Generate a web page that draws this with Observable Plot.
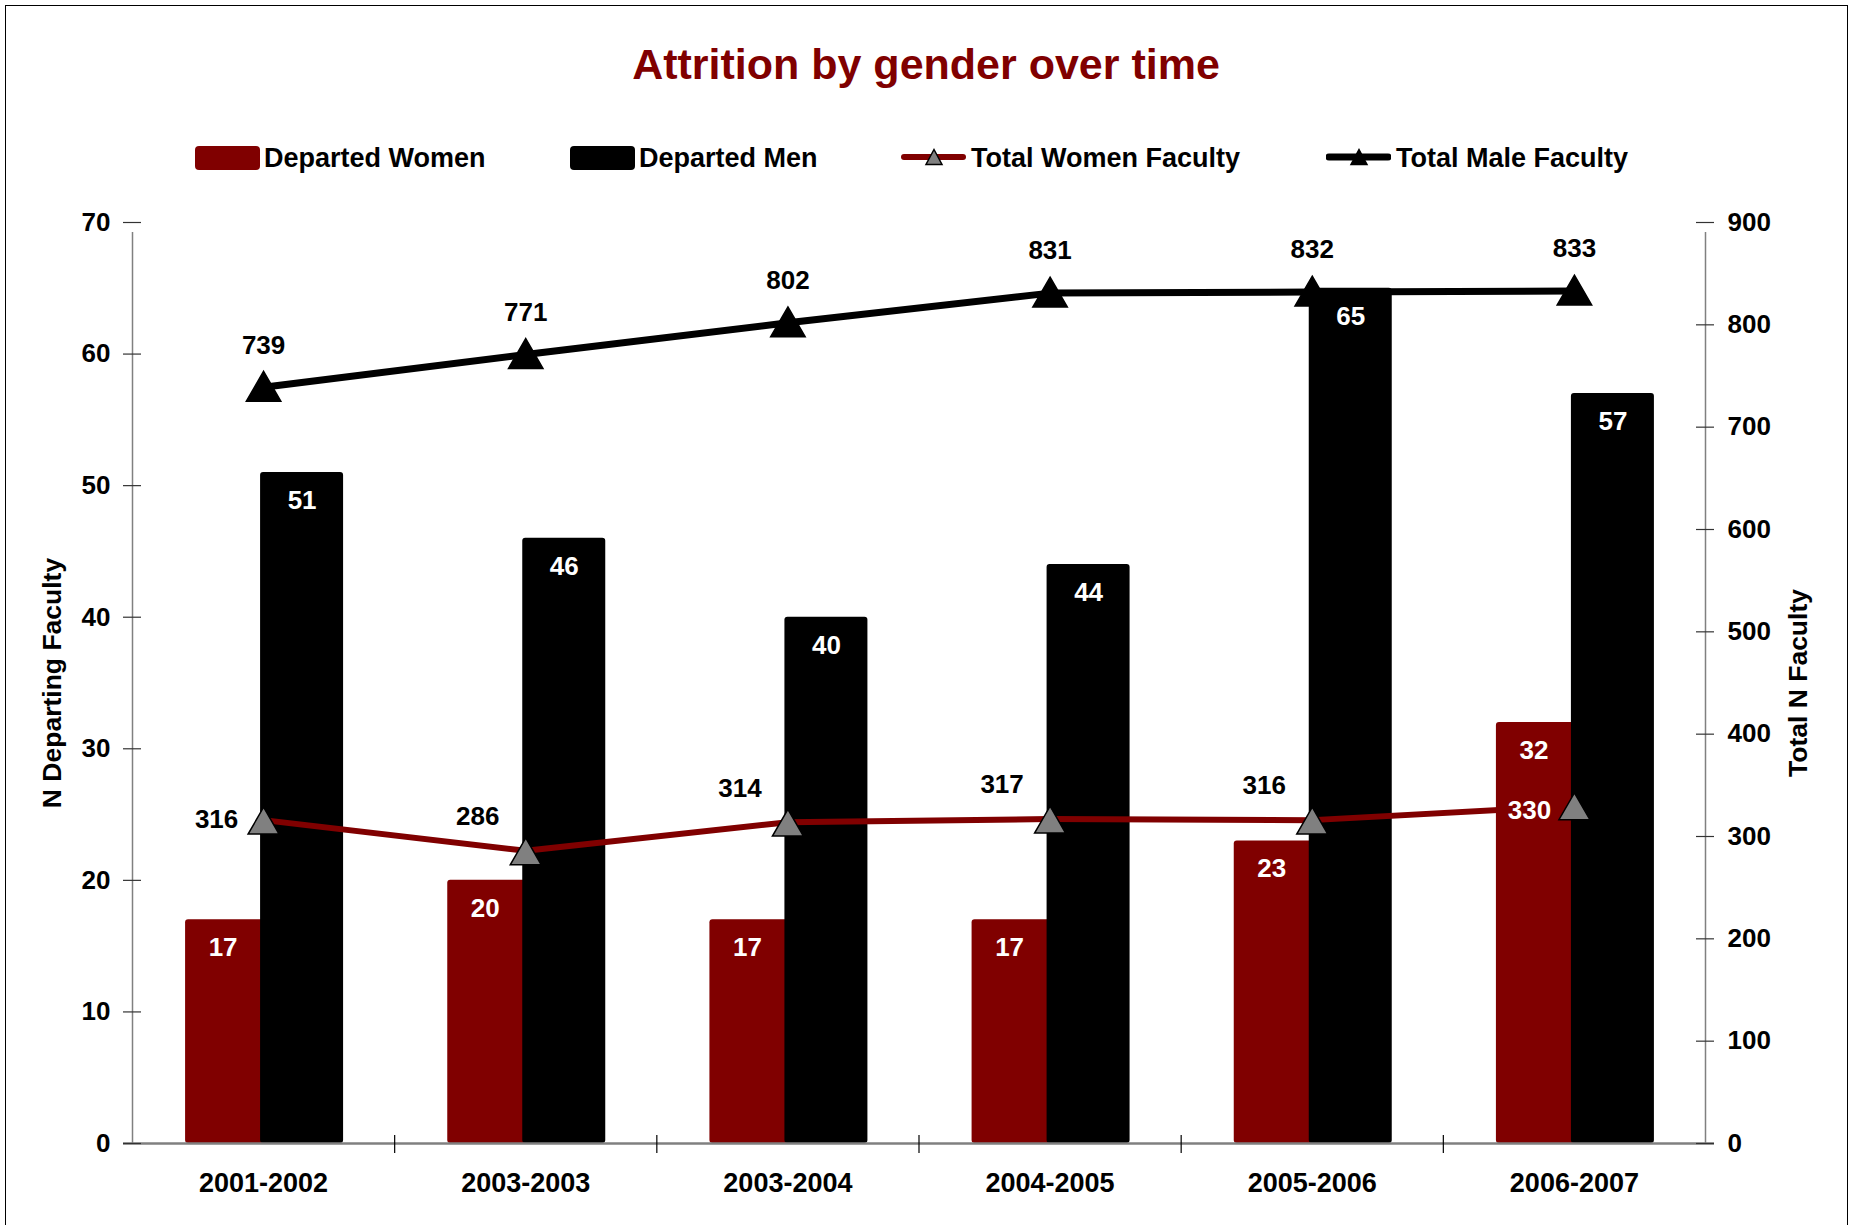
<!DOCTYPE html>
<html>
<head>
<meta charset="utf-8">
<script src="https://cdn.jsdelivr.net/npm/d3@7"></script>
<script src="https://cdn.jsdelivr.net/npm/@observablehq/plot@0.6"></script>
<style>
  html, body { margin: 0; padding: 0; background: #fff; overflow: hidden; }
  body { font-family: "Liberation Sans", Arial, sans-serif; font-weight: bold; }
  #wrap { position: relative; width: 1852px; height: 1225px; overflow: hidden; }
  #frame { position: absolute; left: 5px; top: 5px; width: 1843px; height: 1240px; border: 1.5px solid #000; box-sizing: border-box; }
  #title { position: absolute; left: 0; top: 43px; width: 1852px; text-align: center; font-size: 43px; line-height: 43px; color: #800000; white-space: nowrap; }
  .leg { position: absolute; top: 143px; height: 30px; display: flex; align-items: center; font-size: 27px; line-height: 27px; color: #000; white-space: nowrap; }
  .leg .sw { width: 65px; height: 24px; border-radius: 4px; margin-right: 4px; }
  .leg svg { margin-right: 5px; }
  #chart { position: absolute; left: 0; top: 190px; }
</style>
</head>
<body>
<div id="wrap">
  <div id="frame"></div>
  <div id="title">Attrition by gender over time</div>
  <div id="legend"></div>
  <div id="chart"></div>
</div>
<script>
const categories = ["2001-2002", "2003-2003", "2003-2004", "2004-2005", "2005-2006", "2006-2007"];
const departedWomen = [17, 20, 17, 17, 23, 32];
const departedMen = [51, 46, 40, 44, 65, 57];
const totalWomen = [316, 286, 314, 317, 316, 330];
const totalMen = [739, 771, 802, 831, 832, 833];
const leftTicks = [0, 10, 20, 30, 40, 50, 60, 70];
const rightTicks = [0, 100, 200, 300, 400, 500, 600, 700, 800, 900];
const seriesNames = ["Departed Women", "Departed Men", "Total Women Faculty", "Total Male Faculty"];

const RED = "#800000";
const FONT = "'Liberation Sans', Arial, sans-serif";
const leftMax = 70, rightMax = 900;
const toLeft = v => v * leftMax / rightMax;

// legend
const legend = document.getElementById("legend");
const legLefts = [195, 570, 901, 1326];
seriesNames.forEach((name, k) => {
  const item = document.createElement("div");
  item.className = "leg";
  item.style.left = legLefts[k] + "px";
  if (k < 2) {
    const sw = document.createElement("div");
    sw.className = "sw";
    sw.style.background = k === 0 ? RED : "#000";
    item.appendChild(sw);
  } else {
    const ns = "http://www.w3.org/2000/svg";
    const s = document.createElementNS(ns, "svg");
    s.setAttribute("width", 65); s.setAttribute("height", 30);
    const ln = document.createElementNS(ns, "line");
    ln.setAttribute("x1", 3); ln.setAttribute("x2", 62);
    ln.setAttribute("y1", 14); ln.setAttribute("y2", 14);
    ln.setAttribute("stroke", k === 2 ? RED : "#000");
    ln.setAttribute("stroke-width", k === 2 ? 6 : 7);
    ln.setAttribute("stroke-linecap", "round");
    s.appendChild(ln);
    const tri = document.createElementNS(ns, "path");
    const c = 33, h = 15, w = 16;
    tri.setAttribute("d", `M${c},${14 - h / 2}L${c + w / 2},${14 + h / 2}L${c - w / 2},${14 + h / 2}Z`);
    tri.setAttribute("fill", k === 2 ? "#808080" : "#000");
    tri.setAttribute("stroke", "#000");
    tri.setAttribute("stroke-width", 1.5);
    s.appendChild(tri);
    item.appendChild(s);
  }
  const t = document.createElement("span");
  t.textContent = name;
  item.appendChild(t);
  legend.appendChild(item);
});

// chart
const W = 1852, H = 1035, mL = 132, mR = 147, mT = 32, mB = 82;
const pxPerUnit = (W - mL - mR) / categories.length;
const idx = categories.map((_, i) => i);
const boundaries = d3.range(categories.length + 1);
const cx = i => i + 0.5;
const wX1 = i => cx(i) - 78 / pxPerUnit, wX2 = i => cx(i) + 5 / pxPerUnit;
const mX1 = i => cx(i) - 3 / pxPerUnit, mX2 = i => cx(i) + 80 / pxPerUnit;
const labelFont = { fontSize: 26, fontWeight: "bold" };

const chart = Plot.plot({
  width: W, height: H,
  marginLeft: mL, marginRight: mR, marginTop: mT, marginBottom: mB,
  style: { fontFamily: FONT, fontWeight: "bold", background: "transparent" },
  x: { type: "linear", domain: [0, categories.length], axis: null },
  y: { domain: [0, leftMax], axis: null },
  marks: [
    // bars
    Plot.rect(idx, { x1: wX1, x2: wX2, y1: 0, y2: i => departedWomen[i], fill: RED, rx: 3 }),
    Plot.rect(idx, { x1: mX1, x2: mX2, y1: 0, y2: i => departedMen[i], fill: "#000", rx: 3 }),
    // axes lines
    Plot.ruleY([0], { stroke: "#808080", strokeWidth: 2.5, insetLeft: -9, insetRight: -9 }),
    Plot.ruleX([0], { y1: 0, y2: leftMax, stroke: "#808080", strokeWidth: 1.5, insetBottom: -10 }),
    Plot.ruleX([categories.length], { y1: 0, y2: leftMax, stroke: "#808080", strokeWidth: 1.5, insetBottom: -10 }),
    Plot.ruleX(boundaries.slice(1, -1), { y1: 0, y2: 0, stroke: "#000", strokeWidth: 1.2, insetTop: -8, insetBottom: -10 }),
    Plot.ruleY(leftTicks, { y: d => d, x1: 0, x2: 0, stroke: "#333", strokeWidth: 1.2, insetLeft: -9, insetRight: -9 }),
    Plot.ruleY(rightTicks, { y: d => toLeft(d), x1: categories.length, x2: categories.length, stroke: "#333", strokeWidth: 1.2, insetLeft: -9, insetRight: -9 }),
    // tick labels
    Plot.axisY({ anchor: "left", ticks: leftTicks, tickSize: 0, tickPadding: 22, fontSize: 26, fontWeight: "bold", fill: "#000", label: null }),
    Plot.axisY({ anchor: "right", ticks: rightTicks.map(toLeft), tickFormat: d => Math.round(d * rightMax / leftMax), tickSize: 0, tickPadding: 22, fontSize: 26, fontWeight: "bold", fill: "#000", label: null }),
    Plot.text(idx, { x: cx, y: 0, text: i => categories[i], dy: 40, fontSize: 27, fontWeight: "bold", fill: "#000" }),
    // axis titles
    Plot.text(["N Departing Faculty"], { frameAnchor: "left", textAnchor: "middle", dx: -80, rotate: -90, fontSize: 26.5, fontWeight: "bold", fill: "#000" }),
    Plot.text(["Total N Faculty"], { frameAnchor: "right", textAnchor: "middle", dx: 93, rotate: -90, fontSize: 26.5, fontWeight: "bold", fill: "#000" }),
    // lines
    Plot.line(idx, { x: cx, y: i => toLeft(totalWomen[i]), stroke: RED, strokeWidth: 6 }),
    Plot.dot(idx, { x: cx, y: i => toLeft(totalWomen[i]), symbol: "triangle", r: 11.5, fill: "#808080", stroke: "#000", strokeWidth: 1.5, dy: 5 }),
    Plot.line(idx, { x: cx, y: i => toLeft(totalMen[i]), stroke: "#000", strokeWidth: 7 }),
    Plot.dot(idx, { x: cx, y: i => toLeft(totalMen[i]), symbol: "triangle", r: 12.8, fill: "#000", stroke: "#000", strokeWidth: 1.5, dy: 4 }),
    // value labels
    Plot.text(idx, { x: i => (wX1(i) + mX1(i)) / 2, y: i => departedWomen[i], text: i => String(departedWomen[i]), dy: 28, ...labelFont, fill: "#fff" }),
    Plot.text(idx, { x: i => (mX1(i) + mX2(i)) / 2, y: i => departedMen[i], text: i => String(departedMen[i]), dy: 28, ...labelFont, fill: "#fff" }),
    Plot.text(idx, { x: cx, y: i => toLeft(totalMen[i]), text: i => String(totalMen[i]), dy: -42, ...labelFont, fill: "#000" }),
    Plot.text(idx.filter(i => i > 0 && i < idx.length - 1), { x: cx, y: i => toLeft(totalWomen[i]), text: i => String(totalWomen[i]), dx: -48, dy: -34, ...labelFont, fill: "#000" }),
    Plot.text([0], { x: cx, y: i => toLeft(totalWomen[i]), text: i => String(totalWomen[i]), dx: -47, dy: 0, ...labelFont, fill: "#000" }),
    Plot.text([idx.length - 1], { x: cx, y: i => toLeft(totalWomen[i]), text: i => String(totalWomen[i]), dx: -45, dy: 5, ...labelFont, fill: "#fff" })
  ]
});
document.getElementById("chart").appendChild(chart);
</script>
</body>
</html>
